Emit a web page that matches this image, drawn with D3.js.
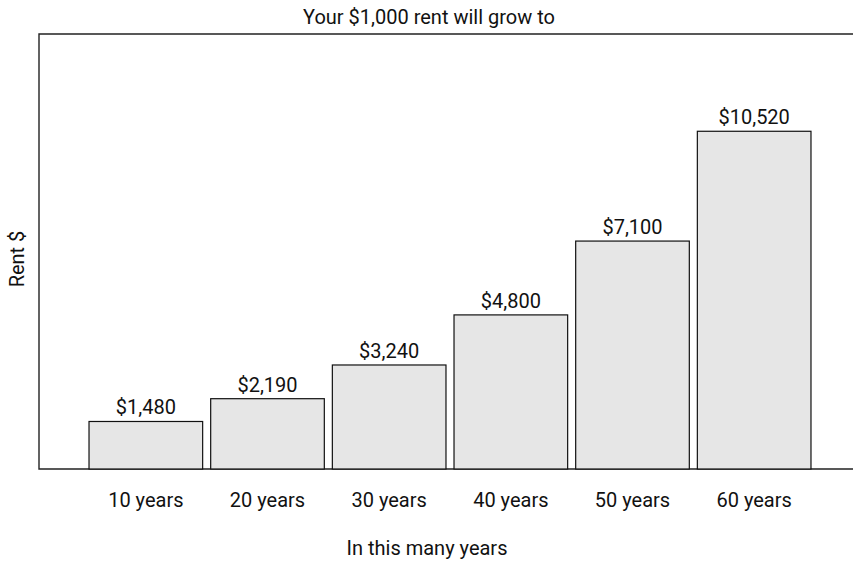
<!DOCTYPE html>
<html>
<head>
<meta charset="utf-8">
<script src="https://cdn.jsdelivr.net/npm/d3@7"></script>
<style>
  body { margin: 0; background: #fff; }
  text { font-family: Roboto, "Liberation Sans Narrow", sans-serif; fill: #111; }
</style>
</head>
<body>
<svg width="853" height="566"></svg>
<script>
// rent growth for $1,000 today
const periods = ['10 years', '20 years', '30 years', '40 years', '50 years', '60 years'];
const rents = [1480, 2190, 3240, 4800, 7100, 10520];

const chartTitle = 'Your $1,000 rent will grow to';
const xTitle = 'In this many years';
const yTitle = 'Rent $';

const plotLeft = 39, plotTop = 34, plotBottom = 469;

const svg = d3.select('svg');

const xScale = d3.scaleBand()
  .domain(periods)
  .range([85, 815])
  .paddingInner(0.066)
  .paddingOuter(0.033);

const yScale = d3.scaleLinear()
  .domain([0, 13550])
  .range([plotBottom, plotTop]);

const fmt = d3.format('$,');

// frame: top, left, bottom (no right side)
svg.append('path')
  .attr('d', `M853,${plotTop}H${plotLeft}V${plotBottom}H853`)
  .attr('fill', 'none')
  .attr('stroke', '#222')
  .attr('stroke-width', 1.4);

const bars = svg.selectAll('.bar')
  .data(rents)
  .enter()
  .append('g')
  .attr('class', 'bar');

bars.append('rect')
  .attr('x', (d, i) => xScale(periods[i]))
  .attr('y', d => yScale(d))
  .attr('width', xScale.bandwidth())
  .attr('height', d => plotBottom - yScale(d))
  .attr('fill', '#e6e6e6')
  .attr('stroke', '#111')
  .attr('stroke-width', 1.2);

bars.append('text')
  .attr('x', (d, i) => xScale(periods[i]) + xScale.bandwidth() / 2)
  .attr('y', d => yScale(d) - 7)
  .attr('text-anchor', 'middle')
  .attr('font-size', '20px')
  .text(d => fmt(d));

// category labels via a bottom axis without lines
const xAxis = svg.append('g')
  .attr('transform', `translate(0, ${plotBottom})`)
  .call(d3.axisBottom(xScale).tickSize(0).tickPadding(24));
xAxis.select('.domain').remove();
xAxis.selectAll('text')
  .attr('font-size', '20px')
  .attr('font-family', 'Roboto, "Liberation Sans Narrow", sans-serif')
  .attr('fill', '#111');

svg.append('text')
  .attr('x', 429)
  .attr('y', 24)
  .attr('text-anchor', 'middle')
  .attr('font-size', '20px')
  .text(chartTitle);

svg.append('text')
  .attr('x', 427)
  .attr('y', 555)
  .attr('text-anchor', 'middle')
  .attr('font-size', '20px')
  .text(xTitle);

svg.append('text')
  .attr('transform', 'translate(24, 259) rotate(-90)')
  .attr('text-anchor', 'middle')
  .attr('font-size', '20px')
  .text(yTitle);
</script>
</body>
</html>
